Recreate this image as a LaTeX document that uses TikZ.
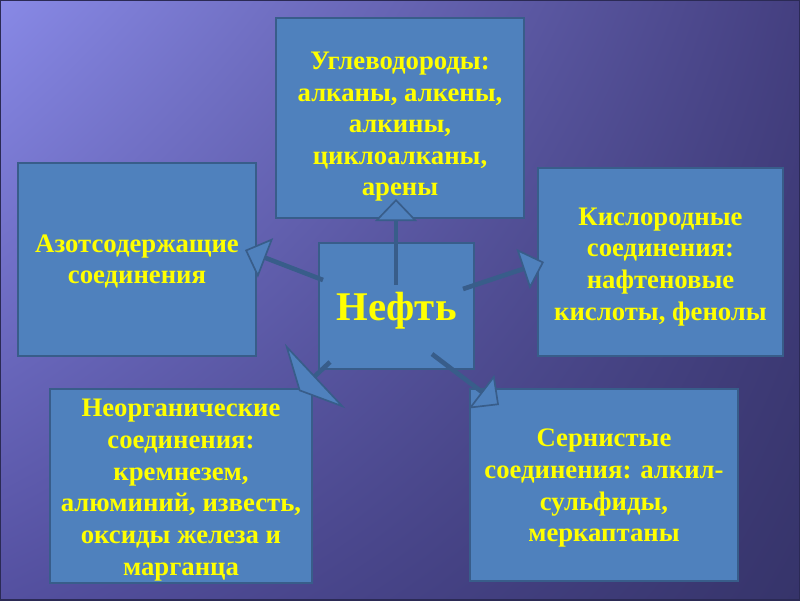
\documentclass[tikz,border=0pt]{standalone}
\usepackage{fontspec}
\setmainfont{Liberation Serif}
\usetikzlibrary{arrows.meta,shadings}

\definecolor{boxfill}{HTML}{4F81BD}
\definecolor{boxline}{HTML}{385D8A}
\definecolor{txtyellow}{HTML}{FFFF00}
\definecolor{bgul}{HTML}{8889E6}
\definecolor{bgur}{HTML}{443F80}
\definecolor{bgll}{HTML}{5450A0}
\definecolor{bglr}{HTML}{36346A}
\definecolor{bgedge}{HTML}{2B2A55}

\begin{document}
\begin{tikzpicture}[x=0.025cm, y=-0.025cm,
    box/.style={draw=boxline, line width=1.2pt, fill=boxfill, inner sep=0pt},
    boxtext/.style={text=txtyellow, align=center, inner sep=0pt,
        font=\bfseries\fontsize{19}{22.5}\selectfont},
    hubtext/.style={boxtext, font=\bfseries\fontsize{29}{33}\selectfont},
    link/.style={draw=boxline, line width=3.3pt,
        -{Triangle[length=0.55cm, width=1.05cm, fill=boxfill, line width=1.2pt]}},
    widelink/.style={link,
        -{Triangle[length=0.55cm, width=2.2cm, fill=boxfill, line width=1.2pt]}}]
    \useasboundingbox (0,0) rectangle (800,600);
    \shade[upper left=bgul, upper right=bgur, lower left=bgll, lower right=bglr]
        (0,0) rectangle (800,600);
    \draw[bgedge, line width=1pt] (0,0) rectangle (800,600);

    % boxes
    \node[box, minimum width=6.2cm, minimum height=5cm] (carb) at (400,118) {};
    \node[box, minimum width=5.95cm, minimum height=4.825cm] (nitro) at (137,259.5) {};
    \node[box, minimum width=6.125cm, minimum height=4.7cm] (oxy) at (660.5,262) {};
    \node[box, minimum width=3.875cm, minimum height=3.15cm] (oil) at (396.5,306) {};
    \node[box, minimum width=6.55cm, minimum height=4.85cm] (inorg) at (181,486) {};
    \node[box, minimum width=6.7cm, minimum height=4.8cm] (sulf) at (604,485) {};

    % texts
    \node[boxtext] (carbT) at ([yshift=-0.22cm]carb.center)
        {Углеводороды:\\алканы, алкены,\\алкины,\\циклоалканы,\\арены};
    \node[boxtext] (nitroT) at ([yshift=-0.05cm]nitro.center)
        {Азотсодержащие\\соединения};
    \node[boxtext] (oxyT) at ([yshift=-0.12cm]oxy.center)
        {Кислородные\\соединения:\\нафтеновые\\кислоты, фенолы};
    \node[hubtext] (oilT) at ([yshift=-0.12cm]oil.center) {Нефть};
    \node[boxtext] (inorgT) at ([yshift=-0.1cm]inorg.center)
        {Неорганические\\соединения:\\кремнезем,\\алюминий, известь,\\оксиды железа и\\марганца};
    \node[boxtext] (sulfT) at ([yshift=-0.08cm]sulf.center)
        {Сернистые\\соединения: алкил-\\сульфиды,\\меркаптаны};

    % arrows
    \coordinate (oilN) at (396,285);  \coordinate (carbIn) at (396,199);
    \coordinate (oilW) at (323,280);  \coordinate (nitroIn) at (245,250);
    \coordinate (oilE) at (463,289);  \coordinate (oxyIn) at (544,262);
    \coordinate (oilSW) at (330,362); \coordinate (inorgIn) at (299,391);
    \coordinate (oilSE) at (432,354); \coordinate (sulfIn) at (499,405);
    \draw[link] (oilN) -- (carbIn);
    \draw[link] (oilW) -- (nitroIn);
    \draw[link] (oilE) -- (oxyIn);
    \draw[widelink] (oilSW) -- (inorgIn);
    \draw[link] (oilSE) -- (sulfIn);
\end{tikzpicture}
\end{document}
